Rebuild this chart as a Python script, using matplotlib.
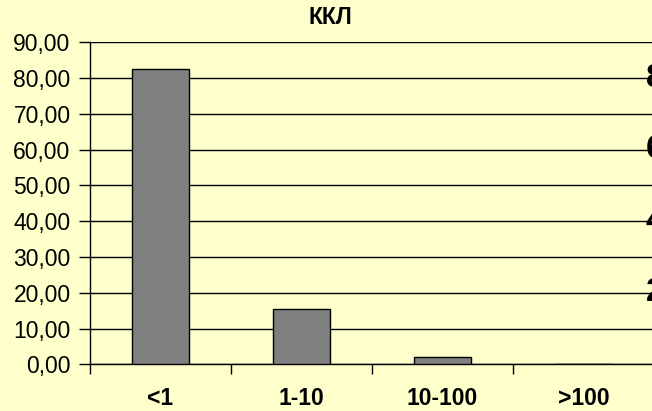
import numpy as np
import matplotlib.pyplot as plt
from matplotlib import transforms

plt.rcParams['font.family'] = ['Liberation Sans', 'DejaVu Sans']

# доли по диапазонам размеров
categories = ['<1', '1-10', '10-100', '>100']
values = [82.6, 15.4, 2.1, 0.0]
y_ticks = [0, 10, 20, 30, 40, 50, 60, 70, 80, 90]
right_labels = ['20', '40', '60', '80']

bg = '#FFFFCC'

fig = plt.figure(figsize=(6.52, 4.11), dpi=100)
fig.patch.set_facecolor(bg)
ax = fig.add_axes([90 / 652, 1 - 364.3 / 411, 564 / 652, 322 / 411])
ax.set_facecolor(bg)

x = np.arange(len(categories))
ax.bar(x, values, width=0.4, color='#808080', edgecolor='black', linewidth=1, zorder=3)

ax.set_xlim(-0.5, len(categories) - 0.5)
ax.set_ylim(0, 90)
ax.set_yticks(y_ticks)
ax.set_yticklabels([f'{v:.2f}'.replace('.', ',') for v in y_ticks], fontsize=16.5)
ax.yaxis.grid(True, color='black', linewidth=1, zorder=0)

# подписи категорий по центру, засечки на границах
ax.set_xticks(x)
ax.set_xticklabels(categories, fontsize=16.5, fontweight='bold')
ax.tick_params(axis='x', which='major', length=0, pad=16)
ax.set_xticks(np.arange(len(categories) + 1) - 0.5, minor=True)
ax.tick_params(axis='x', which='minor', length=7, width=1, direction='out')
ax.tick_params(axis='y', length=8, width=1, pad=6, direction='out')

for side in ['top', 'right']:
    ax.spines[side].set_visible(False)
for side in ['left', 'bottom']:
    ax.spines[side].set_linewidth(1)

fig.text(330 / 652, 1 - 17 / 411, 'ККЛ', ha='center', va='center', fontsize=16.5, fontweight='bold')

# обрезанные подписи правой оси
trans = transforms.blended_transform_factory(fig.transFigure, ax.transData)
for lab in right_labels:
    ax.text(646 / 652, float(lab), lab, transform=trans, ha='left', va='center',
            fontsize=24, fontweight='bold', clip_on=False, zorder=5)

fig.savefig('out.png', dpi=100, facecolor=bg)
